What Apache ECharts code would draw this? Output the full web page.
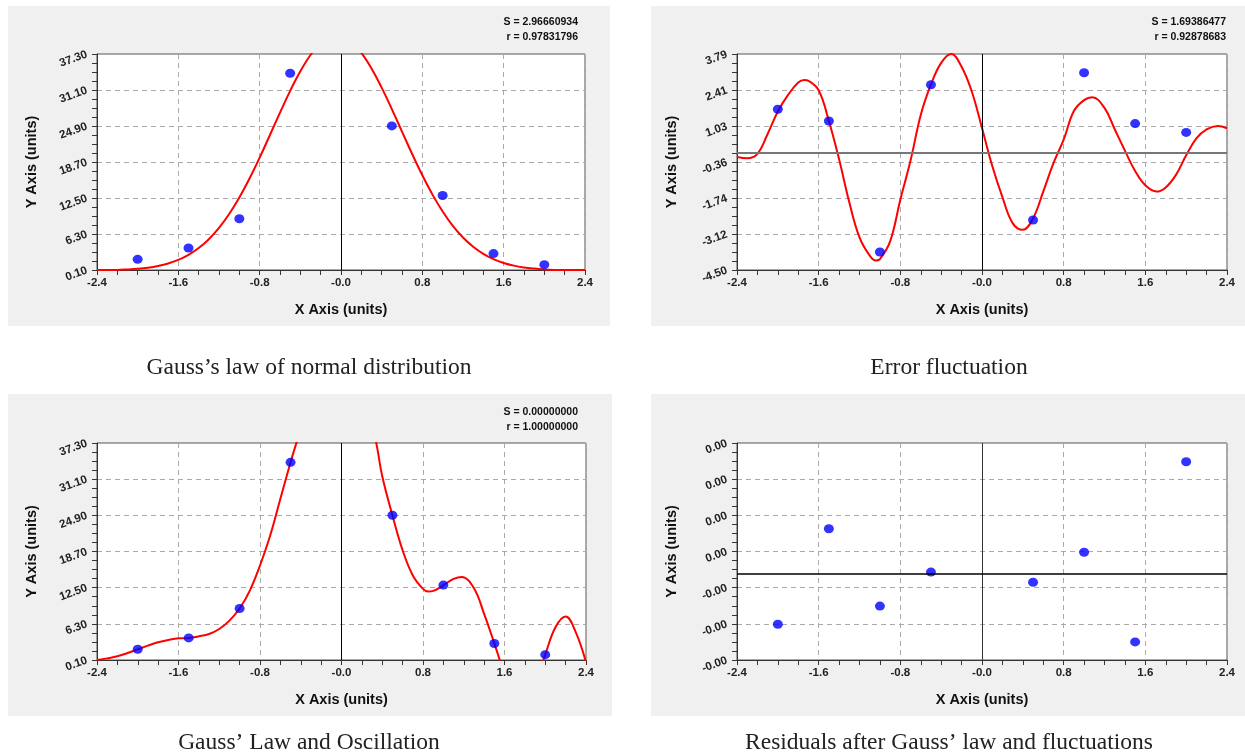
<!DOCTYPE html>
<html>
<head>
<meta charset="utf-8">
<script src="https://cdn.jsdelivr.net/npm/echarts@6/dist/echarts.min.js"></script>
<style>
html,body{margin:0;padding:0;background:#fff;}
#c{width:1245px;height:756px;}
</style>
</head>
<body>
<div id="c"></div>
<script>
// ---------- data ----------
const pointX = [-2.0, -1.5, -1.0, -0.5, 0.5, 1.0, 1.5, 2.0];
const gaussPointY = [1.94, 3.89, 8.93, 33.98, 24.92, 12.94, 2.93, 1.02];
const errPointY = [1.67, 1.22, -3.81, 2.61, -2.58, 3.07, 1.12, 0.78];
const residPointY = [-0.00000140, 0.00000124, -0.00000090, 0.00000004, -0.00000024, 0.00000059, -0.00000189, 0.00000309];

const gaussCurveX = [-2.4,-2.3,-2.2,-2.1,-2.0,-1.9,-1.8,-1.7,-1.6,-1.5,-1.4,-1.3,-1.2,-1.1,-1.0,-0.9,-0.8,-0.7,-0.6,-0.5,-0.4,-0.3,-0.2,-0.1,0.0,0.1,0.2,0.3,0.4,0.5,0.6,0.7,0.8,0.9,1.0,1.1,1.2,1.3,1.4,1.5,1.6,1.7,1.8,1.9,2.0,2.1,2.2,2.3,2.4];
const gaussCurveY = [0.1,0.1,0.11,0.19,0.31,0.50,0.80,1.23,1.85,2.71,3.88,5.41,7.35,9.74,12.59,15.86,19.46,23.31,27.19,30.95,34.33,37.13,39.14,40.23,40.31,39.38,37.50,34.82,31.51,27.81,23.93,20.07,16.41,13.08,10.17,7.70,5.69,4.10,2.88,1.97,1.31,0.85,0.54,0.34,0.20,0.12,0.1,0.1,0.1];

const errCurveX = [-2.4,-2.3,-2.2,-2.1,-2.0,-1.9,-1.8,-1.74,-1.7,-1.6,-1.5,-1.4,-1.3,-1.2,-1.1,-1.04,-1.0,-0.9,-0.8,-0.7,-0.6,-0.5,-0.4,-0.3,-0.2,-0.1,0.0,0.1,0.2,0.3,0.4,0.5,0.6,0.7,0.8,0.9,1.0,1.08,1.2,1.3,1.4,1.5,1.6,1.71,1.8,1.9,2.0,2.1,2.2,2.31,2.4];
const errCurveY = [-0.16,-0.21,-0.04,0.72,1.58,2.22,2.70,2.79,2.76,2.40,1.22,-0.25,-1.90,-3.25,-3.95,-4.14,-4.08,-3.40,-1.80,-0.30,1.45,2.62,3.45,3.79,3.30,2.35,0.95,-0.50,-1.70,-2.70,-2.96,-2.52,-1.49,-0.40,0.50,1.60,2.02,2.13,1.72,0.90,0.08,-0.70,-1.25,-1.49,-1.33,-0.85,-0.10,0.55,0.90,1.03,0.94];

const combCurveX = [-2.4,-2.3,-2.2,-2.1,-2.0,-1.9,-1.8,-1.7,-1.6,-1.5,-1.4,-1.3,-1.2,-1.1,-1.0,-0.9,-0.8,-0.7,-0.6,-0.5,-0.45,-0.4,-0.3,-0.2,-0.1,0.0,0.1,0.2,0.3,0.35,0.4,0.5,0.6,0.7,0.8,0.85,0.9,1.0,1.1,1.18,1.3,1.4,1.5,1.6,1.7,1.8,1.9,2.0,2.1,2.2,2.3,2.4];
const combCurveY = [0.1,0.38,0.73,1.3,1.93,2.56,3.13,3.53,3.82,3.88,4.16,4.56,5.42,6.85,8.92,12.0,16.3,21.45,27.75,33.99,36.9,39.5,44,47,49,49,48,45,40.6,36.5,31.6,24.89,18.9,14.6,12.3,11.85,11.95,12.92,14.0,14.35,12.4,8.0,2.96,-2.2,-6,-7,-4,1.02,5.7,7.54,4.85,-0.3];

const xMin = -2.4, xMax = 2.4, xStep = 0.8;
const xTickLabels = ['-2.4','-1.6','-0.8','-0.0','0.8','1.6','2.4'];
const gaussYMin = 0.1, gaussYMax = 37.3;
const gaussYTickLabels = ['0.10','6.30','12.50','18.70','24.90','31.10','37.30'];
const errYMin = -4.5, errYMax = 3.79;
const errYTickLabels = ['-4.50','-3.12','-1.74','-0.36','1.03','2.41','3.79'];
const residYMin = -0.00000239, residYMax = 0.00000361;
const residYTickLabels = ['-0.00','-0.00','-0.00','0.00','0.00','0.00','0.00'];

const statTexts = [
  ['S = 2.96660934', 'r = 0.97831796'],
  ['S = 1.69386477', 'r = 0.92878683'],
  ['S = 0.00000000', 'r = 1.00000000']
];
const captions = [
  'Gauss\u2019s law of normal distribution',
  'Error fluctuation',
  'Gauss\u2019 Law and Oscillation',
  'Residuals after Gauss\u2019 law and fluctuations'
];

// ---------- layout ----------
const F = '"Liberation Sans", Arial, sans-serif';
const grids = [
  {left: 97, top: 54, width: 488, height: 216},
  {left: 737, top: 54, width: 490, height: 216},
  {left: 97, top: 443, width: 489, height: 217},
  {left: 737, top: 443, width: 490, height: 217}
];
const panels = [
  {x: 8, y: 6, w: 602, h: 320},
  {x: 651, y: 6, w: 594, h: 320},
  {x: 8, y: 394, w: 604, h: 322},
  {x: 651, y: 394, w: 594, h: 322}
];

function xAxisCfg(gi) {
  return {
    type: 'value', gridIndex: gi, min: xMin, max: xMax, interval: xStep,
    name: 'X Axis (units)', nameLocation: 'middle', nameGap: 32,
    nameTextStyle: {fontFamily: F, fontWeight: 'bold', fontSize: 14.5, color: '#111'},
    axisLine: {show: true, onZero: false, lineStyle: {color: '#333', width: 1}},
    axisTick: {show: true, inside: false, length: 5, lineStyle: {color: '#333'}},
    minorTick: {show: true, splitNumber: 4, length: 5, lineStyle: {color: '#333'}},
    axisLabel: {margin: 7, fontFamily: F, fontWeight: 'bold', fontSize: 11.5, color: '#222',
      formatter: v => xTickLabels[Math.round((v - xMin) / xStep)]},
    splitLine: {show: true, lineStyle: {color: '#aaa', type: [5, 4], width: 1}},
    minorSplitLine: {show: false}
  };
}
function yAxisCfg(gi, min, max, labels) {
  const step = (max - min) / (labels.length - 1);
  return {
    type: 'value', gridIndex: gi, min: min, max: max, interval: step,
    name: 'Y Axis (units)', nameLocation: 'middle', nameGap: 58, nameRotate: 90,
    nameTextStyle: {fontFamily: F, fontWeight: 'bold', fontSize: 14.5, color: '#111'},
    axisLine: {show: true, onZero: false, lineStyle: {color: '#333', width: 1}},
    axisTick: {show: true, inside: false, length: 5, lineStyle: {color: '#333'}},
    minorTick: {show: true, splitNumber: 4, length: 5, lineStyle: {color: '#333'}},
    axisLabel: {margin: 10, rotate: 20, fontFamily: F, fontWeight: 'bold', fontSize: 11.5, color: '#222',
      formatter: v => labels[Math.round((v - min) / step)]},
    splitLine: {show: true, lineStyle: {color: '#aaa', type: [5, 4], width: 1}}
  };
}
function curveSeries(gi, xs, ys) {
  return {type: 'line', xAxisIndex: gi, yAxisIndex: gi, data: xs.map((x, i) => [x, ys[i]]),
    smooth: 0.4, showSymbol: false, symbol: 'none', clip: true, z: 3, silent: true,
    lineStyle: {color: '#ff0000', width: 2}};
}
function pointSeries(gi, ys) {
  return {type: 'scatter', xAxisIndex: gi, yAxisIndex: gi, data: pointX.map((x, i) => [x, ys[i]]),
    symbol: 'circle', symbolSize: [10, 9], itemStyle: {color: '#0000ff'}, z: 4, silent: true};
}
function zeroSeries(gi, lines) {
  return {type: 'line', xAxisIndex: gi, yAxisIndex: gi, data: [], z: 2, silent: true,
    markLine: {silent: true, symbol: ['none', 'none'], label: {show: false}, animation: false,
      data: lines}};
}

const graphics = [];
panels.forEach(p => graphics.push({type: 'rect', z: -100, silent: true,
  shape: {x: p.x, y: p.y, width: p.w, height: p.h}, style: {fill: '#f0f0f0'}}));
const statPos = [[578, 22], [1226, 22], [578, 412]];
statTexts.forEach((s, i) => {
  s.forEach((t, j) => graphics.push({type: 'text', z: 10, silent: true,
    style: {text: t, x: statPos[i][0], y: statPos[i][1] + j * 15,
      align: 'right', textAlign: 'right', verticalAlign: 'middle', textVerticalAlign: 'middle',
      font: 'bold 10.5px "Liberation Sans", Arial, sans-serif', fill: '#111'}}));
});
const capPos = [[309, 368], [949, 368], [309, 743], [949, 743]];
captions.forEach((c, i) => graphics.push({type: 'text', z: 10, silent: true,
  style: {text: c, x: capPos[i][0], y: capPos[i][1],
    align: 'center', textAlign: 'center', verticalAlign: 'middle', textVerticalAlign: 'middle',
    font: '23.5px "Liberation Serif", "Times New Roman", serif', fill: '#222'}}));

const black = {color: '#000', width: 1, type: 'solid'};
const option = {
  animation: false,
  textStyle: {fontFamily: F},
  grid: grids.map(g => Object.assign({show: true, backgroundColor: '#fff', borderColor: '#555', borderWidth: 1}, g)),
  xAxis: [0, 1, 2, 3].map(xAxisCfg),
  yAxis: [
    yAxisCfg(0, gaussYMin, gaussYMax, gaussYTickLabels),
    yAxisCfg(1, errYMin, errYMax, errYTickLabels),
    yAxisCfg(2, gaussYMin, gaussYMax, gaussYTickLabels),
    yAxisCfg(3, residYMin, residYMax, residYTickLabels)
  ],
  graphic: graphics,
  series: [
    zeroSeries(0, [{xAxis: 0, lineStyle: black}]),
    curveSeries(0, gaussCurveX, gaussCurveY),
    pointSeries(0, gaussPointY),
    zeroSeries(1, [{xAxis: 0, lineStyle: black}, {yAxis: 0, lineStyle: {color: '#777', width: 2, type: 'solid'}}]),
    curveSeries(1, errCurveX, errCurveY),
    pointSeries(1, errPointY),
    zeroSeries(2, [{xAxis: 0, lineStyle: black}]),
    curveSeries(2, combCurveX, combCurveY),
    pointSeries(2, gaussPointY),
    zeroSeries(3, [{xAxis: 0, lineStyle: {color: '#333', width: 1, type: 'solid'}}, {yAxis: 0, lineStyle: {color: '#000', width: 1.5, type: 'solid'}}]),
    pointSeries(3, residPointY)
  ]
};
const chart = echarts.init(document.getElementById('c'), null, {renderer: 'canvas', width: 1245, height: 756});
chart.setOption(option);
</script>
</body>
</html>
